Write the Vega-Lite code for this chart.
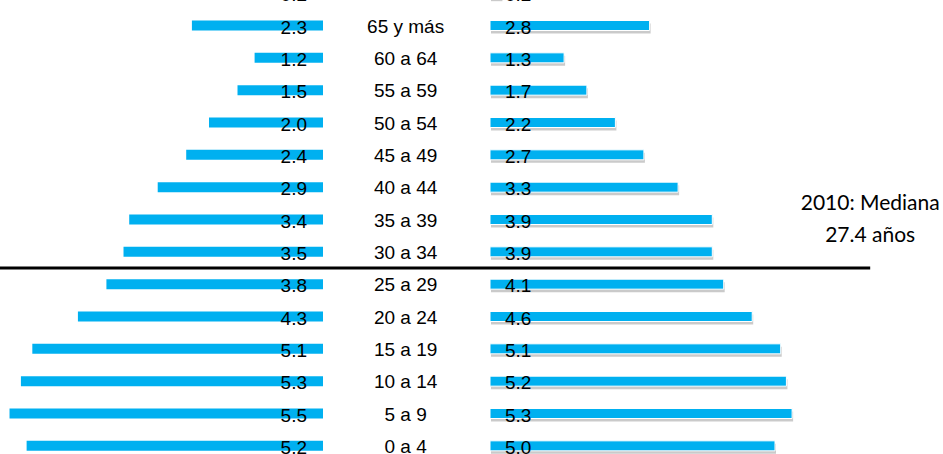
{
  "$schema": "https://vega.github.io/schema/vega-lite/v6.json",
  "width": 943,
  "height": 454,
  "autosize": {"type": "none"},
  "padding": 0,
  "background": "white",
  "config": {"view": {"stroke": null}, "font": "Liberation Sans"},
  "data": {
    "values": [
      {"g": "sup", "lab": "", "l": 0.2, "r": 0.2},
      {"g": "65 y más", "lab": "65 y más", "l": 2.3, "r": 2.8},
      {"g": "60 a 64", "lab": "60 a 64", "l": 1.2, "r": 1.3},
      {"g": "55 a 59", "lab": "55 a 59", "l": 1.5, "r": 1.7},
      {"g": "50 a 54", "lab": "50 a 54", "l": 2.0, "r": 2.2},
      {"g": "45 a 49", "lab": "45 a 49", "l": 2.4, "r": 2.7},
      {"g": "40 a 44", "lab": "40 a 44", "l": 2.9, "r": 3.3},
      {"g": "35 a 39", "lab": "35 a 39", "l": 3.4, "r": 3.9},
      {"g": "30 a 34", "lab": "30 a 34", "l": 3.5, "r": 3.9},
      {"g": "25 a 29", "lab": "25 a 29", "l": 3.8, "r": 4.1},
      {"g": "20 a 24", "lab": "20 a 24", "l": 4.3, "r": 4.6},
      {"g": "15 a 19", "lab": "15 a 19", "l": 5.1, "r": 5.1},
      {"g": "10 a 14", "lab": "10 a 14", "l": 5.3, "r": 5.2},
      {"g": "5 a 9", "lab": "5 a 9", "l": 5.5, "r": 5.3},
      {"g": "0 a 4", "lab": "0 a 4", "l": 5.2, "r": 5.0}
    ]
  },
  "encoding": {
    "y": {
      "field": "g",
      "type": "nominal",
      "axis": null,
      "scale": {
        "type": "band",
        "domain": ["sup", "65 y más", "60 a 64", "55 a 59", "50 a 54", "45 a 49", "40 a 44", "35 a 39", "30 a 34", "25 a 29", "20 a 24", "15 a 19", "10 a 14", "5 a 9", "0 a 4"],
        "range": [-23, 462],
        "paddingInner": 0,
        "paddingOuter": 0
      }
    }
  },
  "layer": [
    {
      "layer": [
        {
          "mark": {"type": "bar", "size": 10, "color": "#00B0F0"},
          "encoding": {
            "x": {"field": "l", "type": "quantitative", "axis": null, "scale": {"domain": [0, 5.667], "range": [323, 0], "zero": true, "nice": false}}
          }
        },
        {
          "mark": {"type": "text", "align": "right", "baseline": "middle", "dx": -16, "dy": 2, "fontSize": 19, "color": "black"},
          "encoding": {
            "x": {"datum": 0, "type": "quantitative"},
            "text": {"field": "l", "type": "quantitative", "format": ".1f"}
          }
        },
        {
          "data": {"values": [{"g": "sup", "t": "Mediana 20.7", "p": 3.07}]},
          "mark": {"type": "text", "align": "center", "baseline": "middle", "dy": 1, "fontSize": 19, "color": "black"},
          "encoding": {
            "x": {"field": "p", "type": "quantitative"},
            "text": {"field": "t", "type": "nominal"}
          }
        }
      ]
    },
    {
      "layer": [
        {
          "mark": {"type": "bar", "size": 10, "color": "#8a8a8a", "opacity": 0.45, "xOffset": 1, "x2Offset": 3, "yOffset": 3},
          "encoding": {
            "x": {"field": "r", "type": "quantitative", "axis": null, "scale": {"domain": [0, 8.07], "range": [490, 950], "zero": true, "nice": false}}
          }
        },
        {
          "mark": {"type": "bar", "size": 10, "color": "#00B0F0", "stroke": "white", "strokeWidth": 1},
          "encoding": {
            "x": {"field": "r", "type": "quantitative"}
          }
        },
        {
          "mark": {"type": "text", "align": "left", "baseline": "middle", "dx": 15, "dy": 2, "fontSize": 19, "color": "black"},
          "encoding": {
            "x": {"datum": 0, "type": "quantitative"},
            "text": {"field": "r", "type": "quantitative", "format": ".1f"}
          }
        },
        {
          "mark": {"type": "text", "align": "center", "baseline": "middle", "dy": 1, "fontSize": 19, "color": "black"},
          "encoding": {
            "x": {"datum": -1.48, "type": "quantitative"},
            "text": {"field": "lab", "type": "nominal"}
          }
        },
        {
          "data": {"values": [{"g": "30 a 34", "a": -8.6, "b": 6.67}]},
          "mark": {"type": "rule", "color": "black", "strokeWidth": 3},
          "encoding": {
            "x": {"field": "a", "type": "quantitative"},
            "x2": {"field": "b"},
            "y": {"field": "g", "type": "nominal", "bandPosition": 1}
          }
        },
        {
          "data": {"values": [{"g": "35 a 39", "t": "2010: Mediana\n27.4 años", "p": 6.67}]},
          "mark": {"type": "text", "align": "center", "baseline": "middle", "lineBreak": "\n", "lineHeight": 32, "dy": -16, "font": "Lato", "fontSize": 21, "color": "black"},
          "encoding": {
            "x": {"field": "p", "type": "quantitative"},
            "text": {"field": "t", "type": "nominal"}
          }
        }
      ]
    }
  ],
  "resolve": {"scale": {"x": "independent"}}
}
